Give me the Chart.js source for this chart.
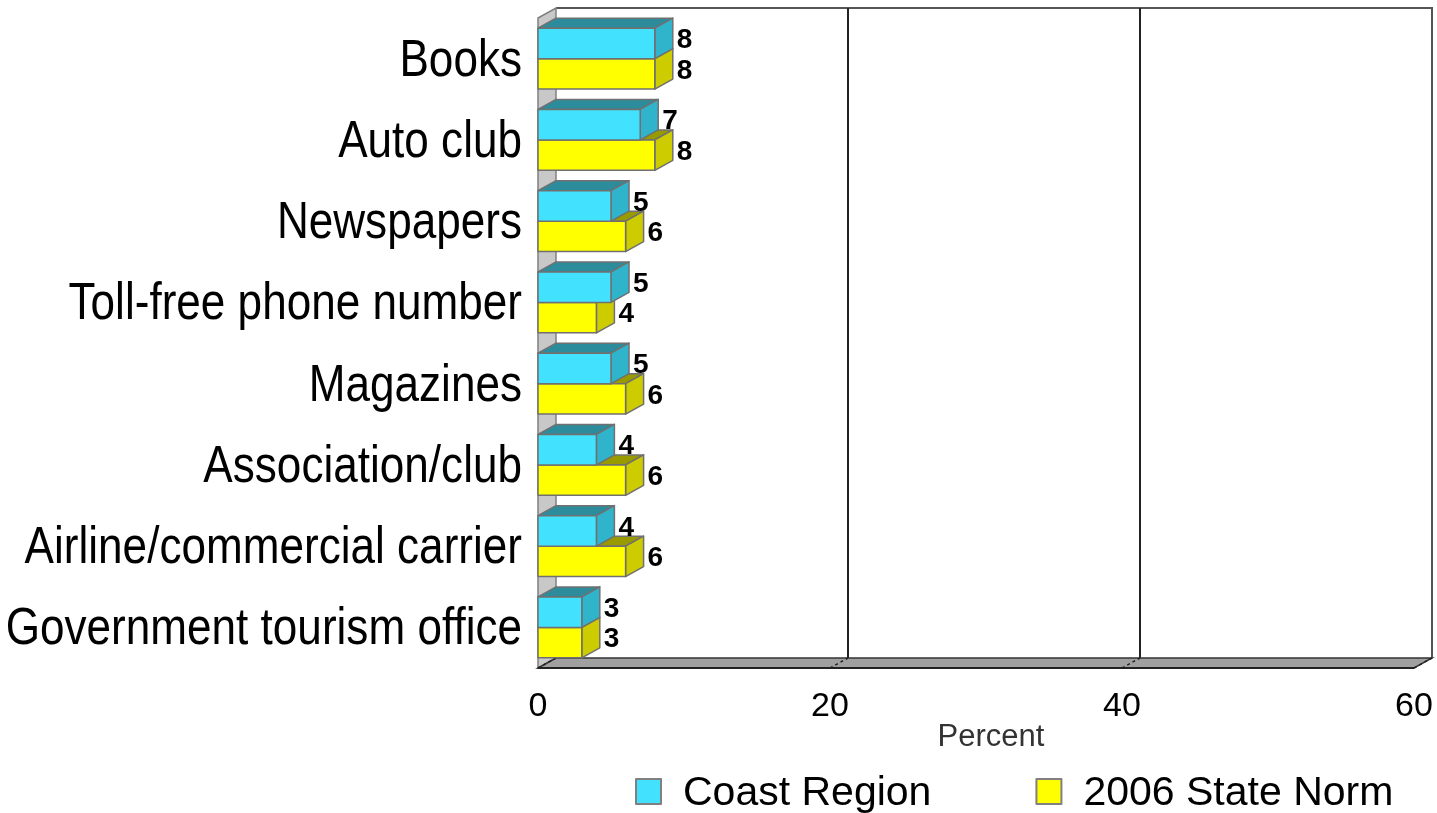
<!DOCTYPE html>
<html>
<head>
<meta charset="utf-8">
<script src="https://cdn.jsdelivr.net/npm/chart.js@4.4.1/dist/chart.umd.min.js"></script>
<style>
    html, body { margin: 0; padding: 0; background: #fff; }
</style>
</head>
<body>
<canvas id="grafico" width="1437" height="813"></canvas>
<script>
var categorias = ['Books', 'Auto club', 'Newspapers', 'Toll-free phone number', 'Magazines',
    'Association/club', 'Airline/commercial carrier', 'Government tourism office'];
var coastRegion = [8, 7, 5, 5, 5, 4, 4, 3];
var stateNorm   = [8, 8, 6, 4, 6, 6, 6, 3];
var nomesSeries = ['Coast Region', '2006 State Norm'];
var ticksX      = [0, 20, 40, 60];
var tituloX     = 'Percent';

// profundidade do efeito 3D
var DX = 18, DY = 10;

var faces = [
    {front: '#42e2ff', side: '#30b4cc', top: '#2c8c9c'},
    {front: '#ffff00', side: '#cccc00', top: '#999900'}
];

function poly(ctx, pts, fill, stroke) {
    ctx.beginPath();
    ctx.moveTo(pts[0][0], pts[0][1]);
    for (var i = 1; i < pts.length; i++) ctx.lineTo(pts[i][0], pts[i][1]);
    ctx.closePath();
    ctx.fillStyle = fill;
    ctx.fill();
    if (stroke) { ctx.strokeStyle = stroke; ctx.stroke(); }
}

function caixa(ctx, x0, x1, top, bot, cores) {
    ctx.lineWidth = 1.5;
    ctx.lineJoin = 'round';
    poly(ctx, [[x0, top], [x1, top], [x1 + DX, top - DY], [x0 + DX, top - DY]], cores.top, '#707070');
    poly(ctx, [[x1, top], [x1 + DX, top - DY], [x1 + DX, bot - DY], [x1, bot]], cores.side, '#707070');
    poly(ctx, [[x0, top], [x1, top], [x1, bot], [x0, bot]], cores.front, '#707070');
}

var paredes = {
    id: 'paredes',
    beforeDatasetsDraw: function (chart) {
        var ctx = chart.ctx, a = chart.chartArea, sx = chart.scales.x;
        var L = a.left, R = a.right, T = a.top, B = a.bottom;
        ctx.save();
        // parede do fundo
        ctx.fillStyle = '#fff';
        ctx.fillRect(L + DX, T - DY, R - L, B - T);
        ctx.strokeStyle = '#555';
        ctx.lineWidth = 2;
        ctx.beginPath();
        ctx.moveTo(L + DX, T - DY);
        ctx.lineTo(R + DX, T - DY);
        ctx.lineTo(R + DX, B - DY);
        ctx.stroke();
        // linhas de grade
        ctx.strokeStyle = '#222';
        ticksX.slice(1, -1).forEach(function (v) {
            var px = sx.getPixelForValue(v) + DX;
            ctx.beginPath();
            ctx.moveTo(px, T - DY);
            ctx.lineTo(px, B - DY);
            ctx.stroke();
        });
        // parede lateral
        ctx.lineWidth = 1.5;
        poly(ctx, [[L, T], [L + DX, T - DY], [L + DX, B - DY], [L, B]], '#c8c8c8', '#808080');
        // piso
        poly(ctx, [[L, B], [R, B], [R + DX, B - DY], [L + DX, B - DY]], '#a0a0a0', '#333');
        ctx.strokeStyle = '#222';
        ctx.lineWidth = 2;
        ctx.beginPath();
        ctx.moveTo(L, B);
        ctx.lineTo(R, B);
        ctx.stroke();
        ctx.setLineDash([3, 3]);
        ctx.lineWidth = 1.5;
        ticksX.forEach(function (v) {
            var px = sx.getPixelForValue(v);
            ctx.beginPath();
            ctx.moveTo(px, B);
            ctx.lineTo(px + DX, B - DY);
            ctx.stroke();
        });
        ctx.restore();
    },
    afterDatasetsDraw: function (chart) {
        var ctx = chart.ctx, a = chart.chartArea, sx = chart.scales.x, sy = chart.scales.y;
        var metas = [chart.getDatasetMeta(0), chart.getDatasetMeta(1)];
        ctx.save();

        // barras: a de baixo primeiro, depois a de cima
        for (var i = 0; i < categorias.length; i++) {
            for (var d = metas.length - 1; d >= 0; d--) {
                var p = metas[d].data[i].getProps(['x', 'y', 'base', 'height'], true);
                caixa(ctx, p.base, p.x, p.y - p.height / 2, p.y + p.height / 2, faces[d]);
            }
        }

        // valores
        ctx.fillStyle = '#000';
        ctx.font = 'bold 28px "Liberation Sans", Arial, sans-serif';
        ctx.textAlign = 'left';
        ctx.textBaseline = 'middle';
        metas.forEach(function (meta, d) {
            var dados = chart.data.datasets[d].data;
            meta.data.forEach(function (el, i) {
                var p = el.getProps(['x', 'y'], true);
                ctx.fillText(String(dados[i]), p.x + DX + 4, p.y - DY / 2 + 2);
            });
        });

        // nomes das categorias (fonte estreita)
        ctx.font = '52px "Liberation Sans", Arial, sans-serif';
        ctx.textAlign = 'right';
        ctx.textBaseline = 'alphabetic';
        categorias.forEach(function (c, i) {
            var y = sy.getPixelForValue(i);
            ctx.save();
            ctx.translate(a.left - 16, y + 17);
            ctx.scale(0.848, 1);
            ctx.fillText(c, 0, 0);
            ctx.restore();
        });

        // eixo x
        ctx.font = '34px "Liberation Sans", Arial, sans-serif';
        ctx.textAlign = 'center';
        ticksX.forEach(function (v) {
            ctx.fillText(String(v), sx.getPixelForValue(v), a.bottom + 48);
        });
        ctx.fillStyle = '#333';
        ctx.font = '31px "Liberation Sans", Arial, sans-serif';
        ctx.fillText(tituloX, (a.left + a.right) / 2 + 15, a.bottom + 78);

        // legenda
        ctx.font = '41px "Liberation Sans", Arial, sans-serif';
        ctx.textAlign = 'left';
        var lx = 636, ly = 779;
        nomesSeries.forEach(function (nome, d) {
            ctx.fillStyle = faces[d].front;
            ctx.fillRect(lx, ly, 25, 25);
            ctx.strokeStyle = '#808080';
            ctx.lineWidth = 2;
            ctx.strokeRect(lx, ly, 25, 25);
            ctx.fillStyle = '#000';
            ctx.fillText(nome, lx + 47, ly + 26);
            lx += 47 + ctx.measureText(nome).width + 105;
        });
        ctx.restore();
    }
};

var myChart = new Chart(document.getElementById('grafico'), {
    type: 'bar',
    data: {
        labels: categorias,
        datasets: [
            {label: nomesSeries[0], data: coastRegion, backgroundColor: 'rgba(0,0,0,0)', borderWidth: 0,
                categoryPercentage: 0.75, barPercentage: 1.0},
            {label: nomesSeries[1], data: stateNorm, backgroundColor: 'rgba(0,0,0,0)', borderWidth: 0,
                categoryPercentage: 0.75, barPercentage: 1.0}
        ]
    },
    options: {
        indexAxis: 'y',
        responsive: false,
        animation: false,
        devicePixelRatio: 1,
        layout: {padding: {left: 538, right: 23, top: 18, bottom: 145}},
        scales: {
            x: {type: 'linear', min: 0, max: 60, display: false, ticks: {stepSize: 20}},
            y: {type: 'category', display: false}
        },
        plugins: {
            legend: {display: false},
            tooltip: {enabled: false}
        }
    },
    plugins: [paredes]
});
</script>
</body>
</html>
